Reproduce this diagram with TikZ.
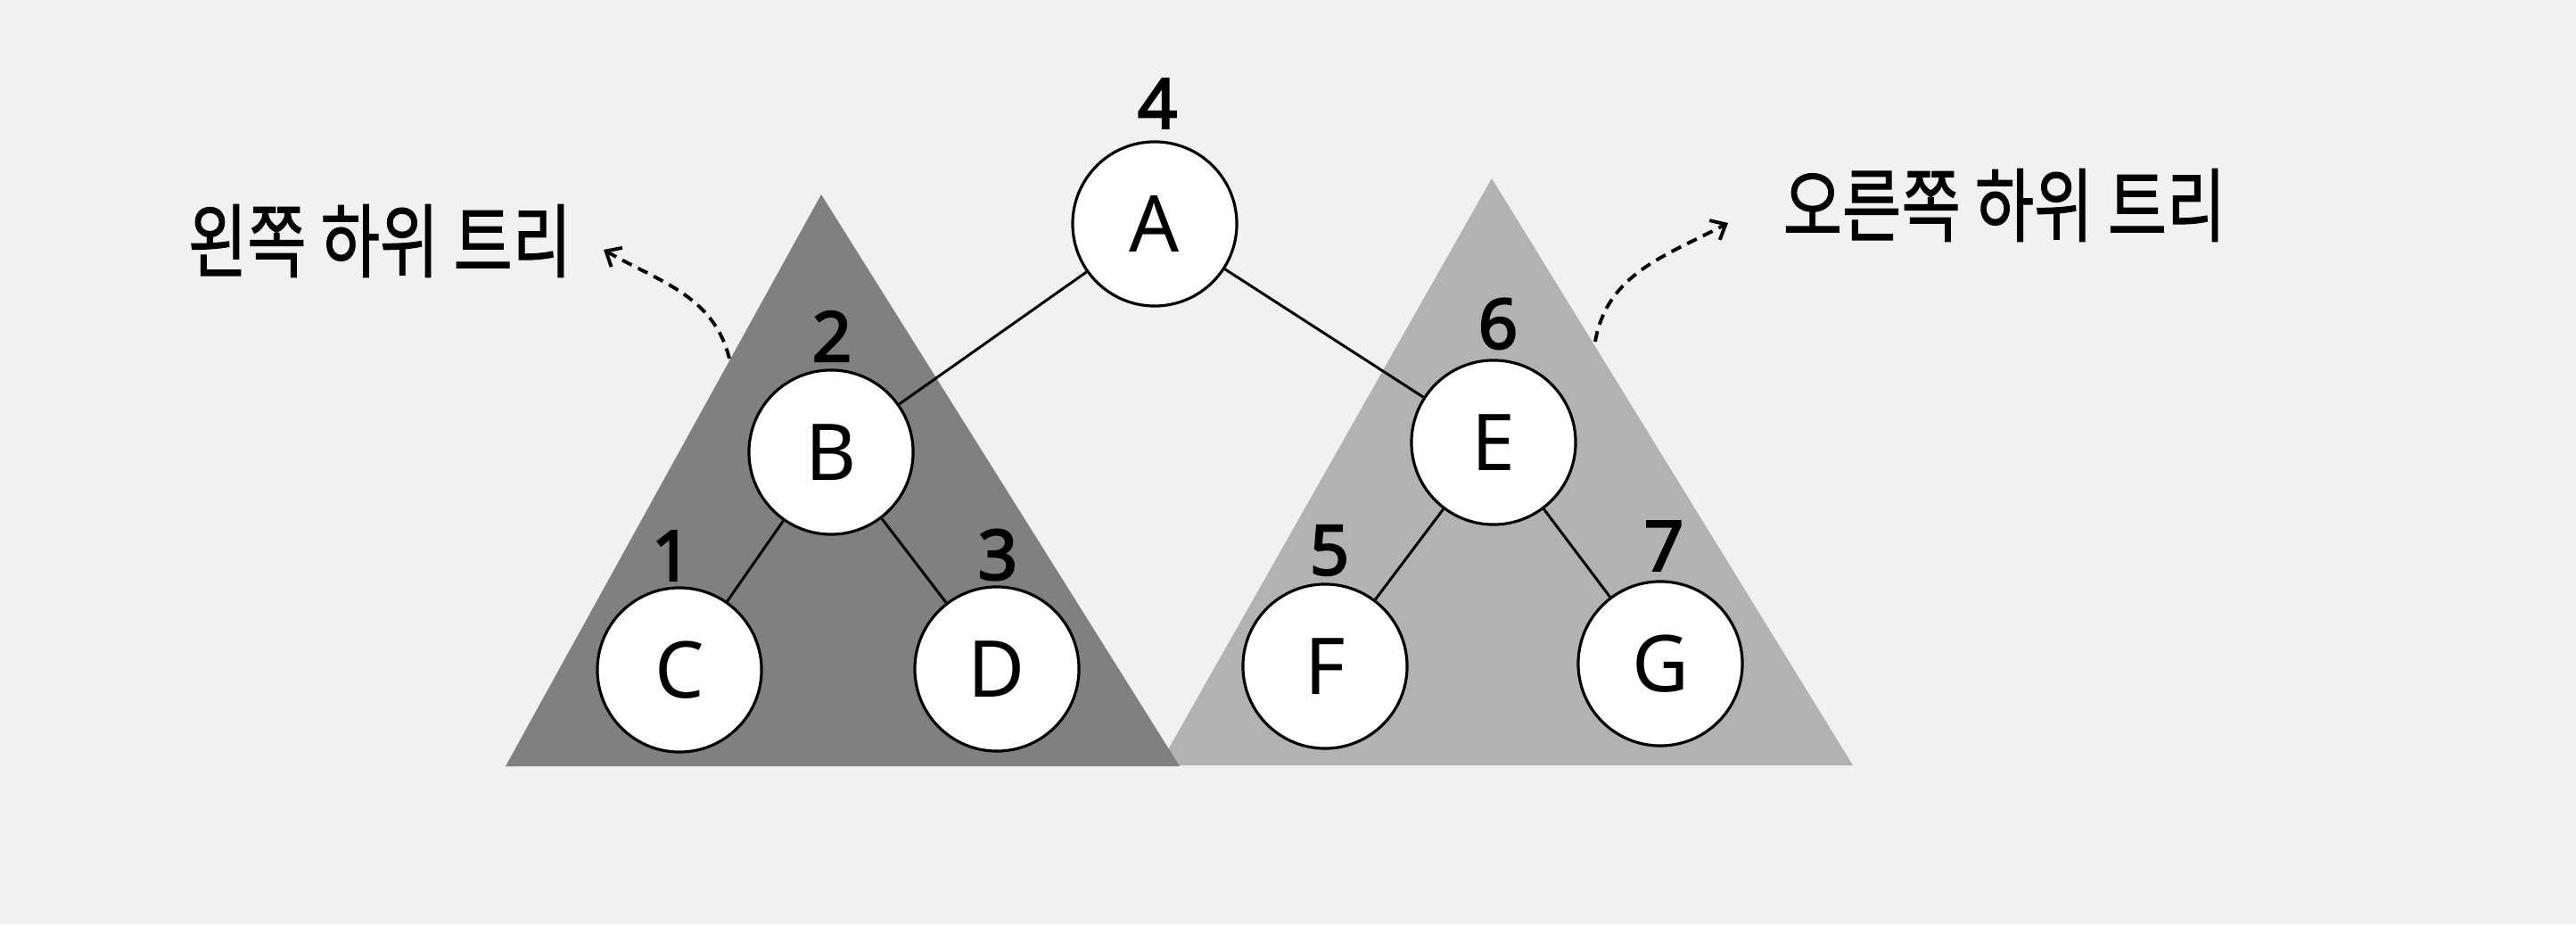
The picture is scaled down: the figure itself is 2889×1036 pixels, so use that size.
\documentclass[tikz,border=0pt]{standalone}
\usepackage{fontspec}
\newfontfamily\latf{Noto Sans}
\newfontfamily\numf[FakeBold=3]{Noto Sans}
\newfontfamily\kr[FakeBold=1.3]{Noto Sans CJK KR}
\usetikzlibrary{arrows.meta}
\definecolor{paper}{RGB}{241,241,241}
\definecolor{darktri}{RGB}{128,128,128}
\definecolor{lighttri}{RGB}{178,178,178}
\tikzset{
  treenode/.style={circle,draw=black,line width=0.9pt,fill=white,minimum size=1.84cm,inner sep=0pt,font=\latf\fontsize{25}{30}\selectfont},
  numlabel/.style={inner sep=0pt,font=\numf\fontsize{22}{26}\selectfont},
  edgeline/.style={line width=0.85pt,black},
  krlabel/.style={inner sep=0pt,font=\kr\fontsize{20.5}{24}\selectfont},
  callout/.style={line width=1.1pt,dash pattern=on 3.4pt off 2.2pt,-{Straight Barb[length=4pt,width=7pt]}}
}
\begin{document}
\begin{tikzpicture}[x=0.01cm,y=0.01cm]
\useasboundingbox (0,0) rectangle (2889,1036);
\fill[paper] (0,0) rectangle (2889,1036);
% subtree triangles
\fill[lighttri] (1673,836) -- (2078,178) -- (1300,178) -- cycle;
\fill[darktri] (921,818) -- (1323,177) -- (567,177) -- cycle;
% nodes
\node[treenode] (A) at (1295,785) {A};
\node[treenode] (B) at (932,529) {B};
\node[treenode] (C) at (762,285) {C};
\node[treenode] (D) at (1118,286) {D};
\node[treenode] (E) at (1675,540) {E};
\node[treenode] (F) at (1486,289) {F};
\node[treenode] (G) at (1862,292) {G};
% edges
\draw[edgeline] (A) -- (B);
\draw[edgeline] (A) -- (E);
\draw[edgeline] (B) -- (C);
\draw[edgeline] (B) -- (D);
\draw[edgeline] (E) -- (F);
\draw[edgeline] (E) -- (G);
% order numbers
\node[numlabel] (n4) at (1298,920) {4};
\node[numlabel] (n2) at (933,659) {2};
\node[numlabel] (n1) at (753,413) {1};
\node[numlabel] (n3) at (1119,414) {3};
\node[numlabel] (n6) at (1680,673) {6};
\node[numlabel] (n5) at (1491,419) {5};
\node[numlabel] (n7) at (1866,424) {7};
% subtree labels
\node[krlabel] (lt) at (426,766) {\scalebox{1}[1.25]{왼쪽 하위 트리}};
\node[krlabel] (rt) at (2248,806) {\scalebox{1}[1.25]{오른쪽 하위 트리}};
\coordinate (ls) at (818,634);
\coordinate (le) at (677,756);
\coordinate (rs) at (1789,653);
\coordinate (re) at (1938,786);
\draw[callout] (ls) to[out=104,in=-30] (le);
\draw[callout] (rs) to[out=80,in=208] (re);
\end{tikzpicture}
\end{document}
